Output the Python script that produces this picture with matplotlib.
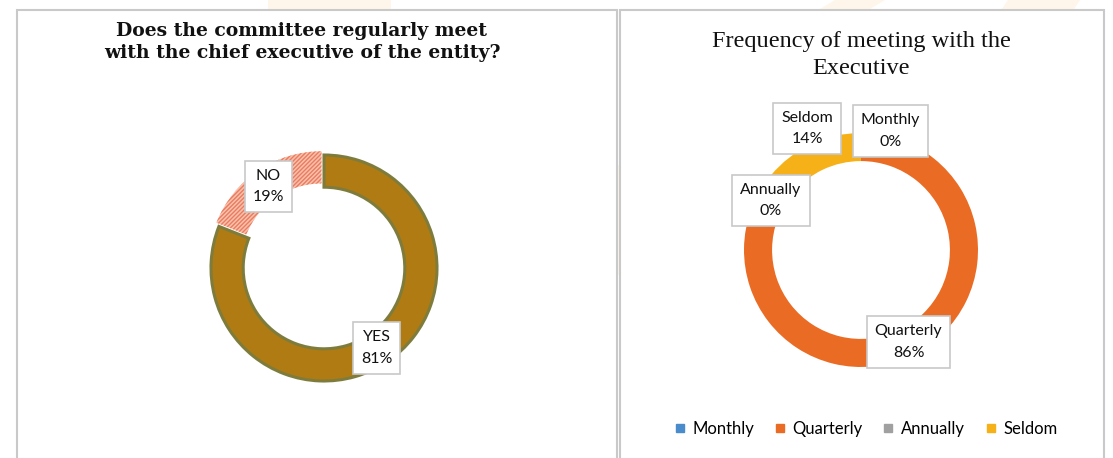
import matplotlib
matplotlib.use("Agg")
import matplotlib.pyplot as plt
from matplotlib.patches import Rectangle, Polygon
from matplotlib.lines import Line2D

# ---------------- data ----------------
left_title = "Does the committee regularly meet\nwith the chief executive of the entity?"
left_labels = ["YES", "NO"]
left_values = [81, 19]

right_title = "Frequency of meeting with the\nExecutive"
right_labels = ["Monthly", "Quarterly", "Annually", "Seldom"]
right_values = [0, 86, 0, 14]

# ---------------- style ----------------
W, H = 1113, 458
DPI = 100
plt.rcParams["hatch.linewidth"] = 1.0
LABEL_FONT = ["Lato", "DejaVu Sans"]

yes_color = "#B07B12"
yes_edge = "#7E7C3C"
no_face = "#F8C2AA"
no_hatch = "#EC7A62"
right_colors = ["#4A8BCB", "#EA6B24", "#A0A0A0", "#F7B118"]

fig = plt.figure(figsize=(W / DPI, H / DPI), dpi=DPI)
fig.patch.set_facecolor("white")


def px_axes(cx, cy, half):
    """axes centred at pixel (cx, cy) from top-left, half-size in px"""
    ax = fig.add_axes([(cx - half) / W, (H - cy - half) / H, 2 * half / W, 2 * half / H])
    ax.set_zorder(5)
    ax.patch.set_alpha(0)
    return ax


def fig_xy(px, py):
    return (px / W, (H - py) / H)


# faint watermark shapes in the background
cream = "#FEF6EA"
wm = [
    [(268, 0), (391, 0), (391, 12), (268, 12)],
    [(835, 0), (885, 0), (865, 12), (815, 12)],
    [(1008, 0), (1080, 0), (1072, 12), (1000, 12)],
    [(615, 165), (622, 165), (622, 275), (615, 275)],
]
for poly in wm:
    fig.add_artist(Polygon([fig_xy(*p) for p in poly], closed=True,
                           transform=fig.transFigure, facecolor=cream,
                           edgecolor="none", zorder=-3))

# panel frames
for x0, x1 in [(17, 617), (620, 1104)]:
    fig.add_artist(Rectangle((x0 / W, -0.05), (x1 - x0) / W, (H - 10) / H + 0.05,
                             transform=fig.transFigure, facecolor="white",
                             edgecolor="#C9C9C9", linewidth=1.5, zorder=-2))

# ---------------- left donut ----------------
LIM = 1.4
lcx, lcy, lr = 324, 268, 113
axL = px_axes(lcx, lcy, LIM * lr)
wedgesL, _ = axL.pie(left_values, startangle=90, counterclock=False, radius=1.0,
                     explode=[0, 0.04],
                     wedgeprops=dict(width=0.285))
wedgesL[0].set_facecolor(yes_color)
wedgesL[0].set_edgecolor(yes_edge)
wedgesL[0].set_linewidth(2.2)
wedgesL[1].set_facecolor(no_face)
wedgesL[1].set_edgecolor(no_hatch)
wedgesL[1].set_hatch("////////")
wedgesL[1].set_linewidth(0)
axL.set_xlim(-LIM, LIM)
axL.set_ylim(-LIM, LIM)
axL.set_aspect("equal")
axL.axis("off")

box = dict(boxstyle="square,pad=0.5", facecolor="white", edgecolor="#C8C8C8", linewidth=1.2)
left_label_pos = {"YES": (376.5, 348), "NO": (268.5, 186.5)}
for lab, val in zip(left_labels, left_values):
    px, py = left_label_pos[lab]
    axL.text((px - lcx) / lr, (lcy - py) / lr, f"{lab}\n{val}%", ha="center", va="center",
             fontsize=11.5, family=LABEL_FONT, color="#111111", linespacing=1.65, bbox=box)

fig.text(302 / W, (H - 42) / H, left_title, ha="center", va="center",
         fontsize=13.5, fontweight="bold", family=["DejaVu Serif"], color="#111111",
         linespacing=1.35)

# ---------------- right donut ----------------
rcx, rcy, rr = 861, 250, 117
axR = px_axes(rcx, rcy, LIM * rr)
wedgesR, _ = axR.pie(right_values, startangle=90, counterclock=False, radius=1.0,
                     colors=right_colors, wedgeprops=dict(width=0.24, linewidth=0))
axR.set_xlim(-LIM, LIM)
axR.set_ylim(-LIM, LIM)
axR.set_aspect("equal")
axR.axis("off")

right_label_pos = {"Monthly": (890.5, 131), "Quarterly": (908.5, 342),
                   "Annually": (771, 200.5), "Seldom": (807, 128.5)}
for lab, val in zip(right_labels, right_values):
    px, py = right_label_pos[lab]
    axR.text((px - rcx) / rr, (rcy - py) / rr, f"{lab}\n{val}%", ha="center", va="center",
             fontsize=11.5, family=LABEL_FONT, color="#111111", linespacing=1.65, bbox=box)

fig.text(861 / W, (H - 55) / H, right_title, ha="center", va="center",
         fontsize=17.5, family=["Liberation Serif"], color="#111111", linespacing=1.4)

handles = [Line2D([], [], marker="s", linestyle="none", markersize=5.2,
                  markerfacecolor=c, markeredgecolor=c) for c in right_colors]
fig.legend(handles, right_labels, loc="center", bbox_to_anchor=(866 / W, (H - 429) / H),
           ncol=4, frameon=False, handlelength=0.6, handletextpad=0.45, columnspacing=1.25,
           prop=dict(family=LABEL_FONT, size=12))

fig.savefig("out.png", dpi=DPI, facecolor="white")
